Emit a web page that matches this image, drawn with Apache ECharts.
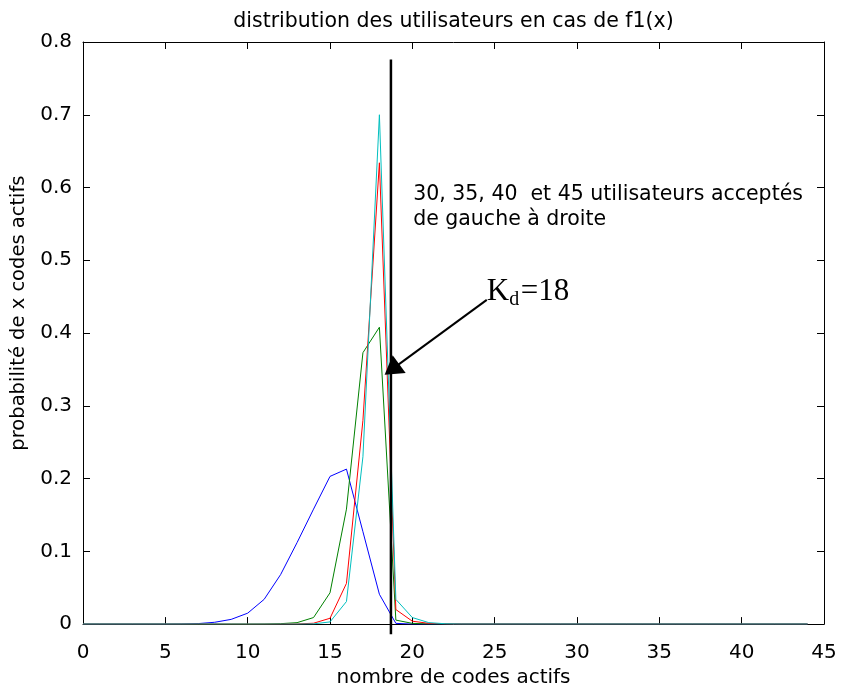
<!DOCTYPE html>
<html>
<head>
<meta charset="utf-8">
<script src="https://cdn.jsdelivr.net/npm/echarts@6/dist/echarts.min.js"></script>
<style>html,body{margin:0;padding:0;background:#fff;}#c{width:842px;height:693px;}</style>
</head>
<body>
<div id="c"></div>
<script>
// ---- data ----
const xValues = [0,1,2,3,4,5,6,7,8,9,10,11,12,13,14,15,16,17,18,19,20,21,22,23,24,25,26,27,28,29,30,31,32,33,34,35,36,37,38,39,40,41,42,43,44];
// 30 users (blue)
const users30 = [0,0,0,0,0,0,0.0001,0.0007,0.0025,0.0065,0.015,0.034,0.068,0.112,0.158,0.203,0.213,0.127,0.041,0.001,0,0,0,0,0,0,0,0,0,0,0,0,0,0,0,0,0,0,0,0,0,0,0,0,0];
// 35 users (green)
const users35 = [0,0,0,0,0,0,0,0,0,0,0,0.0001,0.0006,0.002,0.009,0.043,0.158,0.373,0.408,0.0055,0.001,0.0002,0,0,0,0,0,0,0,0,0,0,0,0,0,0,0,0,0,0,0,0,0,0,0];
// 40 users (red)
const users40 = [0,0,0,0,0,0,0,0,0,0,0,0,0,0.0002,0.0012,0.008,0.056,0.28,0.634,0.020,0.004,0.001,0.0003,0,0,0,0,0,0,0,0,0,0,0,0,0,0,0,0,0,0,0,0,0,0];
// 45 users (cyan)
const users45 = [0,0,0,0,0,0,0,0,0,0,0,0,0,0,0.0003,0.003,0.031,0.23,0.70,0.034,0.009,0.002,0.0005,0,0,0,0,0,0,0,0,0,0,0,0,0,0,0,0,0,0,0,0,0,0];
const seriesNames = ['30', '35', '40', '45'];
const seriesColors = ['#0000ff', '#008000', '#ff0000', '#00bfbf'];
const seriesValues = [users30, users35, users40, users45];
// threshold Kd line and arrow annotation
const kdLineX = [18.7, 18.7];
const kdLineY = [0.776, -0.014];
const arrowFrom = [24.52, 0.4456];
const arrowTo = [18.76, 0.350];
const xTicks = {min: 0, max: 45, interval: 5};
const yTicks = {min: 0, max: 0.8, interval: 0.1};

const FONT = 'DejaVu Sans';
const chart = echarts.init(document.getElementById('c'), null, {renderer: 'canvas'});

const axisCommon = {
  axisLine: {show: true, onZero: false, lineStyle: {color: '#000', width: 1}},
  axisTick: {show: true, inside: true, length: 7, lineStyle: {color: '#000'}},
  splitLine: {show: false}
};

const series = seriesValues.map((vals, i) => ({
  name: seriesNames[i],
  type: 'line',
  data: xValues.map((x, j) => [x, vals[j]]),
  showSymbol: false,
  symbol: 'none',
  lineStyle: {color: seriesColors[i], width: 1},
  itemStyle: {color: seriesColors[i]},
  animation: false,
  z: 3
}));

series.push({
  name: 'Kd',
  type: 'line',
  data: kdLineX.map((x, i) => [x, kdLineY[i]]),
  showSymbol: false,
  symbol: 'none',
  clip: false,
  lineStyle: {color: '#000', width: 2.5},
  animation: false,
  z: 4,
  markLine: {
    silent: true,
    animation: false,
    symbol: ['none', 'triangle'],
    symbolSize: [22, 18],
    label: {show: false},
    lineStyle: {color: '#000', width: 2, type: 'solid'},
    data: [[{coord: arrowFrom}, {coord: arrowTo}]]
  }
});

chart.setOption({
  backgroundColor: '#fff',
  animation: false,
  grid: {left: 83, right: 18, top: 42, bottom: 67, containLabel: false},
  xAxis: [
    Object.assign({}, axisCommon, {
      type: 'value', position: 'bottom', min: xTicks.min, max: xTicks.max, interval: xTicks.interval,
      axisLabel: {color: '#000', fontFamily: FONT, fontSize: 20, margin: 19},
      name: 'nombre de codes actifs', nameLocation: 'middle', nameGap: 40,
      nameTextStyle: {color: '#000', fontFamily: FONT, fontSize: 20}
    }),
    Object.assign({}, axisCommon, {
      type: 'value', position: 'top', min: xTicks.min, max: xTicks.max, interval: xTicks.interval,
      axisLabel: {show: false}
    })
  ],
  yAxis: [
    Object.assign({}, axisCommon, {
      type: 'value', position: 'left', min: yTicks.min, max: yTicks.max, interval: yTicks.interval,
      axisLabel: {color: '#000', fontFamily: FONT, fontSize: 20, margin: 11,
        formatter: v => (Math.abs(v) < 1e-9 ? '0' : (Math.round(v * 10) / 10).toFixed(1))},
      name: 'probabilité de x codes actifs', nameLocation: 'middle', nameGap: 44,
      nameTextStyle: {color: '#000', fontFamily: FONT, fontSize: 19.5, padding: [0, 0, 0, 40]}
    }),
    Object.assign({}, axisCommon, {
      type: 'value', position: 'right', min: yTicks.min, max: yTicks.max, interval: yTicks.interval,
      axisLabel: {show: false}
    })
  ],
  series: series
});

// text annotations anchored to data coordinates
const pK = chart.convertToPixel({gridIndex: 0}, arrowFrom);
const pNote = chart.convertToPixel({gridIndex: 0}, [20.05, 0.608]);
const gridCenterX = chart.convertToPixel({xAxisIndex: 0}, 22.5);
chart.setOption({
  graphic: [
    {type: 'text', x: gridCenterX, y: 22,
      style: {text: 'distribution des utilisateurs en cas de f1(x)', font: '20.5px "DejaVu Sans"', fill: '#000', textAlign: 'center', textVerticalAlign: 'middle'}},
    {type: 'text', x: pNote[0], y: pNote[1],
      style: {text: '30, 35, 40  et 45 utilisateurs acceptés\nde gauche à droite', font: '20.5px "DejaVu Sans"', lineHeight: 25, fill: '#000', textAlign: 'left', textVerticalAlign: 'top'}},
    {type: 'text', x: pK[0], y: pK[1] - 8,
      style: {text: 'K', font: '31px "Liberation Serif"', fill: '#000', textAlign: 'left', textVerticalAlign: 'middle'}},
    {type: 'text', x: pK[0] + 22.5, y: pK[1] + 0,
      style: {text: 'd', font: '20px "Liberation Serif"', fill: '#000', textAlign: 'left', textVerticalAlign: 'middle'}},
    {type: 'text', x: pK[0] + 34, y: pK[1] - 8,
      style: {text: '=18', font: '31px "Liberation Serif"', fill: '#000', textAlign: 'left', textVerticalAlign: 'middle'}}
  ]
});
</script>
</body>
</html>
